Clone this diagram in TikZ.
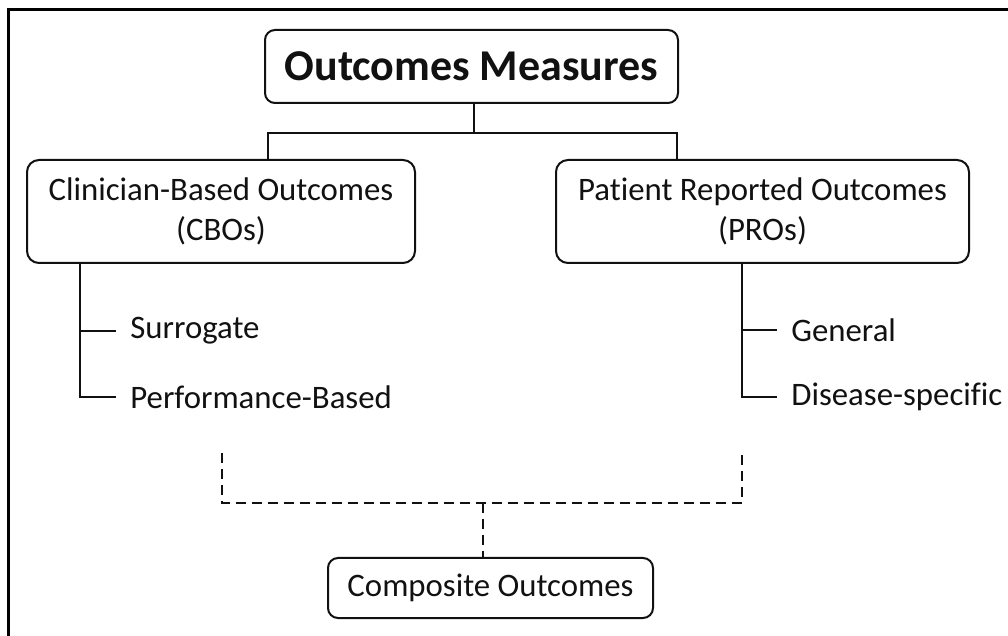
\documentclass[tikz,border=0pt]{standalone}
\usepackage{fontspec}
\setmainfont{Carlito}[Ligatures=NoCommon]
\usepackage{tikz}
\usetikzlibrary{positioning}
\definecolor{omInk}{HTML}{111111}
\tikzset{
  % Top heading box
  headbox/.style={rectangle,rounded corners=5pt,
    minimum width=206.5pt,minimum height=36.5pt,
    align=center,draw=omInk,line width=1pt,
    font=\fontsize{22pt}{26pt}\selectfont\bfseries,text=omInk},
  % Outcome group box
  grpbox/.style={rectangle,rounded corners=6pt,
    minimum height=51.5pt,inner sep=2pt,
    align=center,draw=omInk,line width=1pt,
    font=\fontsize{16.4pt}{20pt}\selectfont,text=omInk},
  % Composite box
  cbox/.style={rectangle,rounded corners=5pt,
    minimum width=162.5pt,minimum height=30pt,
    align=center,draw=omInk,line width=1pt,
    font=\fontsize{16.4pt}{20pt}\selectfont,text=omInk},
  % Sub-item labels
  leaf/.style={anchor=west,inner xsep=7pt,inner ysep=0pt,
    font=\fontsize{16.4pt}{20pt}\selectfont,text=omInk},
  % Lines
  tree/.style={line width=0.8pt,color=omInk},
  dline/.style={line width=1.2pt,dash pattern=on 5pt off 3pt,color=omInk},
  frame/.style={line width=1.5pt,color=black},
}
\begin{document}
\begin{tikzpicture}[x=0.5pt,y=-0.5pt]
  \useasboundingbox (0,0) rectangle (1008,636);
  \draw[frame] (8,636) |- (1008,10);

  \node[headbox] (title) at (471.5,66.5) {Outcomes Measures};
  \node[grpbox,minimum width=194pt] (cbo) at (221,211.5)
    {Clinician-Based Outcomes\\(CBOs)};
  \node[grpbox,minimum width=206.5pt] (pro) at (762.5,211.5)
    {Patient Reported Outcomes\\(PROs)};

  \node[leaf] (surr) at (116,331) {Surrogate};
  \node[leaf] (perf) at (116,397) {Performance-Based};
  \node[leaf] (gen) at (777,330) {General};
  \node[leaf] (dis) at (777,397) {Disease-specific};

  \node[cbox] (comp) at (490.5,588) {Composite Outcomes};

  % heading to both groups
  \coordinate (split) at (474,133);
  \coordinate (cboin) at (268,160);
  \coordinate (proin) at (677,160);
  \draw[tree] (title.south -| split) -- (split);
  \draw[tree] (cboin) |- (split) -| (proin);

  % group branches
  \coordinate (cboroot) at (80,263);
  \coordinate (proroot) at (742,263);
  \draw[tree] (cboroot) |- (surr.west);
  \draw[tree] (cboroot) |- (perf.west);
  \draw[tree] (proroot) |- (gen.west);
  \draw[tree] (proroot) |- (dis.west);

  % both groups feed the composite
  \coordinate (cboend) at (222,453);
  \coordinate (proend) at (742,453);
  \coordinate (join) at (483,503);
  \draw[dline] (cboend) |- (join) -| (proend);
  \draw[dline] (join) -- (join |- comp.north);
\end{tikzpicture}
\end{document}
